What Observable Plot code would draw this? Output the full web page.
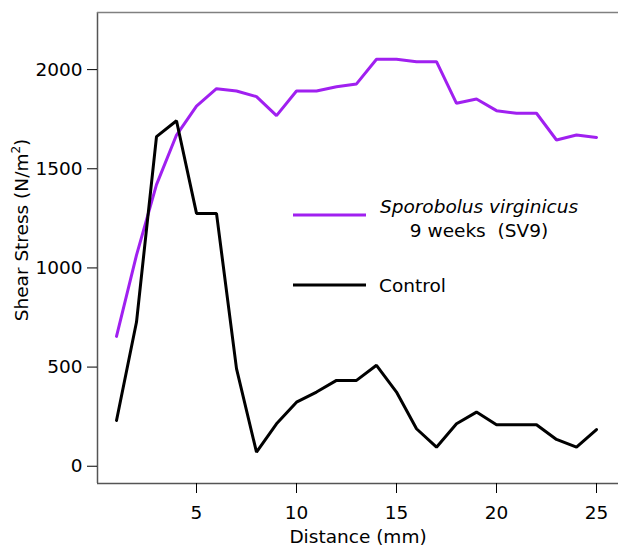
<!DOCTYPE html>
<html>
<head>
<meta charset="utf-8">
<script src="https://cdn.jsdelivr.net/npm/d3@7"></script>
<script src="https://cdn.jsdelivr.net/npm/@observablehq/plot@0.6"></script>
<style>
  html, body { margin: 0; padding: 0; background: #fff; }
  #chart { position: relative; width: 618px; height: 546px; }
</style>
</head>
<body>
<div id="chart"></div>
<script>
const distance = [1,2,3,4,5,6,7,8,9,10,11,12,13,14,15,16,17,18,19,20,21,22,23,24,25];
const sv9 = [655,1065,1420,1670,1816,1904,1892,1864,1768,1892,1892,1914,1928,2052,2052,2040,2040,1830,1852,1793,1780,1780,1645,1670,1658];
const control = [231,727,1662,1742,1275,1275,492,71,214,323,374,433,433,509,374,189,96,214,273,209,209,209,135,96,185];
const seriesNames = ["Sporobolus virginicus", "Control"];
const seriesSubtitle = "9 weeks  (SV9)";
const seriesColors = ["#A020F0", "#000000"];
const yTicks = [0, 500, 1000, 1500, 2000];
const xTicks = [5, 10, 15, 20, 25];
const xLabel = "Distance (mm)";

const data = [];
distance.forEach((d, i) => {
  data.push({distance: d, stress: sv9[i], series: seriesNames[0]});
  data.push({distance: d, stress: control[i], series: seriesNames[1]});
});

const xDomain = [0.05, 26.1];
const yDomain = [-87, 2288];
const FS = 18.5;

const plot = Plot.plot({
  width: 618,
  height: 546,
  marginLeft: 97,
  marginTop: 12,
  marginBottom: 63,
  marginRight: 0,
  style: {fontFamily: "DejaVu Sans", fontSize: FS + "px", color: "#000", background: "#fff"},
  x: {domain: xDomain},
  y: {domain: yDomain},
  color: {domain: seriesNames, range: seriesColors},
  marks: [
    Plot.ruleX([xDomain[0]], {stroke: "#555", strokeWidth: 1.5}),
    Plot.ruleY([yDomain[1]], {stroke: "#808080", strokeWidth: 1.5}),
    Plot.ruleY([yDomain[0]], {stroke: "#555", strokeWidth: 1.5}),
    Plot.axisY({ticks: yTicks, tickSize: 10, tickPadding: 5, fontSize: FS, tickFormat: "d", label: null}),
    Plot.axisX({ticks: xTicks, tickSize: 10, tickPadding: 12, fontSize: FS, tickFormat: "d",
      label: xLabel, labelAnchor: "center", labelOffset: 59, labelArrow: "none"}),
    Plot.line(data, {x: "distance", y: "stress", z: "series", stroke: "series", strokeWidth: 3, strokeLinejoin: "miter"})
  ]
});
document.getElementById("chart").appendChild(plot);

const svg = d3.select(plot);

// Y axis label with superscript
const yl = svg.append("text")
  .attr("transform", "translate(28,230) rotate(-90)")
  .attr("text-anchor", "middle")
  .attr("font-family", "DejaVu Sans").attr("font-size", FS).attr("fill", "#000");
yl.append("tspan").text("Shear Stress (N/m");
yl.append("tspan").attr("font-size", 12).attr("dy", -8).text("2");
yl.append("tspan").attr("dy", 8).text(")");

// Legend inside the plot area
const lg = svg.append("g").attr("font-family", "DejaVu Sans").attr("font-size", FS).attr("fill", "#000");
lg.append("line").attr("x1", 293).attr("x2", 366).attr("y1", 215).attr("y2", 215)
  .attr("stroke", seriesColors[0]).attr("stroke-width", 3);
lg.append("text").attr("x", 479).attr("y", 212.5).attr("text-anchor", "middle")
  .attr("font-style", "italic").text(seriesNames[0]);
lg.append("text").attr("x", 479).attr("y", 236.5).attr("text-anchor", "middle")
  .attr("xml:space", "preserve").style("white-space", "pre").text(seriesSubtitle);
lg.append("line").attr("x1", 293).attr("x2", 366).attr("y1", 285).attr("y2", 285)
  .attr("stroke", seriesColors[1]).attr("stroke-width", 3);
lg.append("text").attr("x", 379).attr("y", 291.5).attr("text-anchor", "start").text(seriesNames[1]);
</script>
</body>
</html>
